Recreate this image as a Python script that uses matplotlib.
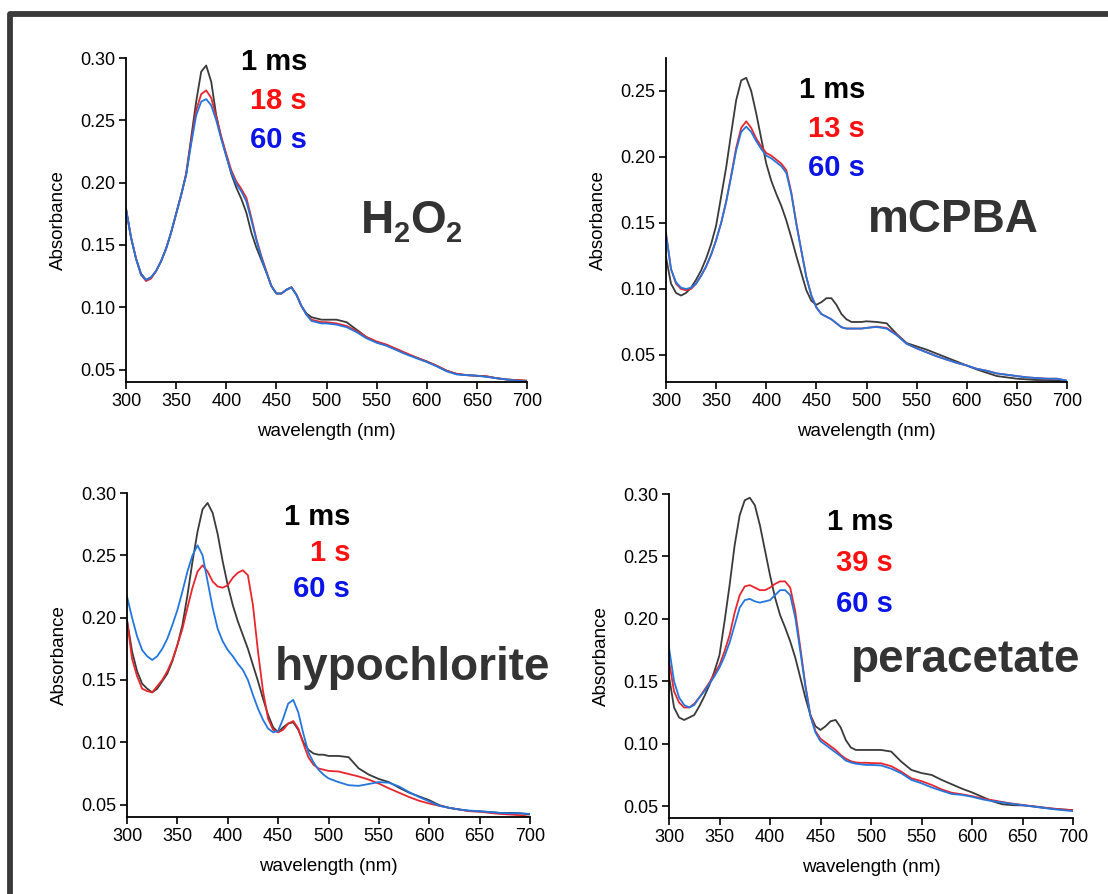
import numpy as np
import matplotlib
matplotlib.use("Agg")
import matplotlib.pyplot as plt
from matplotlib.patches import Rectangle

plt.rcParams["font.family"] = ["Liberation Sans", "DejaVu Sans"]

# wavelength grid (nm): 5 nm steps to 500, then 10 nm steps
wavelength = list(range(300, 501, 5)) + list(range(510, 701, 10))

h2o2_1ms = [.179, .156, .139, .127, .122, .124, .129, .137, .147, .160,
            .175, .190, .207, .236, .265, .289, .294, .281, .254, .236,
            .222, .207, .196, .187, .176, .160, .148, .138, .128, .117,
            .111, .111, .114, .116, .110, .101, .095, .092, .091, .090,
            .090,
            .090, .088, .082, .076, .072, .0695, .066, .0625, .0595, .0565,
            .053, .049, .0465, .0455, .045, .0445, .043, .042, .0415, .041]
h2o2_18s = [.179, .156, .139, .126, .121, .123, .129, .137, .147, .160,
            .175, .190, .207, .233, .258, .271, .274, .268, .253, .237,
            .223, .210, .201, .195, .188, .172, .155, .141, .129, .117,
            .111, .111, .114, .116, .110, .101, .094, .090, .089, .088,
            .088,
            .087, .085, .081, .076, .0725, .070, .0665, .063, .0595, .0565,
            .053, .049, .0465, .0455, .045, .0445, .043, .042, .0415, .041]
h2o2_60s = [.179, .156, .139, .126, .122, .124, .129, .137, .147, .160,
            .175, .190, .206, .231, .254, .265, .267, .262, .250, .235,
            .221, .208, .199, .193, .185, .170, .154, .140, .128, .117,
            .111, .111, .114, .116, .110, .101, .094, .089, .088, .087,
            .087,
            .086, .084, .080, .075, .0715, .069, .0655, .062, .059, .056,
            .0525, .0485, .046, .0455, .045, .044, .043, .042, .041, .0405]

mcpba_1ms = [.124, .104, .097, .095, .097, .101, .107, .114, .123, .134,
             .148, .170, .192, .218, .243, .258, .260, .250, .233, .214,
             .195, .182, .172, .163, .152, .139, .125, .112, .099, .091,
             .088, .090, .093, .093, .088, .081, .077, .075, .075, .075,
             .0755,
             .075, .074, .066, .059, .0565, .054, .051, .048, .045, .042,
             .039, .0365, .034, .033, .032, .0315, .031, .031, .0305, .0303]
mcpba_13s = [.142, .115, .104, .100, .099, .100, .104, .110, .117, .126,
             .137, .150, .166, .186, .207, .222, .227, .222, .214, .208,
             .203, .201, .198, .195, .190, .173, .150, .129, .109, .095,
             .086, .081, .079, .077, .074, .071, .070, .070, .070, .070,
             .0705,
             .0715, .0705, .0655, .0585, .055, .052, .049, .0465, .044, .042,
             .0395, .038, .036, .035, .034, .033, .0325, .032, .032, .0305]
mcpba_60s = [.142, .115, .105, .101, .100, .101, .104, .110, .117, .126,
             .137, .150, .166, .185, .205, .219, .223, .219, .212, .206,
             .201, .199, .196, .193, .188, .172, .149, .129, .109, .095,
             .086, .081, .079, .077, .074, .071, .070, .070, .070, .070,
             .0705,
             .0712, .070, .065, .0585, .055, .052, .049, .0465, .044, .042,
             .0395, .038, .036, .035, .034, .033, .0325, .032, .032, .0305]

hypo_1ms = [.198, .173, .157, .147, .143, .140, .143, .149, .155, .165,
            .178, .194, .218, .245, .269, .287, .292, .284, .267, .245,
            .226, .210, .197, .186, .175, .162, .149, .135, .122, .112,
            .108, .112, .115, .116, .110, .100, .094, .091, .090, .090,
            .089,
            .089, .088, .079, .074, .0705, .068, .0635, .0595, .0565, .0535,
            .0495, .0473, .046, .0447, .0445, .044, .0433, .0433, .043, .042]
hypo_1s = [.198, .167, .153, .143, .141, .140, .145, .150, .157, .166,
           .178, .191, .208, .224, .237, .242, .237, .229, .225, .224,
           .226, .232, .236, .238, .234, .210, .173, .141, .119, .110,
           .108, .110, .115, .117, .111, .099, .088, .082, .079, .078,
           .077,
           .0765, .0745, .0725, .070, .0668, .063, .0595, .056, .053, .0508,
           .049, .0473, .046, .0447, .0443, .0433, .0425, .042, .0415, .040]
hypo_60s = [.217, .200, .185, .174, .169, .166, .169, .175, .183, .194,
            .206, .221, .237, .250, .258, .250, .229, .208, .191, .181,
            .174, .169, .163, .158, .150, .138, .127, .118, .111, .108,
            .109, .119, .131, .134, .124, .107, .092, .084, .078, .074,
            .071,
            .068, .0655, .065, .0665, .068, .0675, .0645, .060, .056, .0525,
            .049, .0473, .046, .0452, .0446, .044, .0433, .043, .043, .0425]

perac_1ms = [.154, .129, .121, .119, .121, .123, .130, .138, .147, .158,
             .171, .198, .227, .259, .283, .295, .297, .291, .275, .255,
             .235, .217, .203, .193, .182, .169, .153, .137, .123, .114,
             .111, .114, .118, .119, .113, .103, .097, .095, .095, .095,
             .095,
             .095, .0937, .0856, .079, .0765, .075, .071, .0675, .064, .061,
             .0575, .054, .0515, .0508, .0506, .050, .049, .048, .0473, .0468]
perac_39s = [.166, .142, .133, .129, .129, .132, .137, .143, .149, .156,
             .163, .174, .187, .205, .219, .226, .227, .225, .223, .223,
             .225, .228, .230, .230, .225, .206, .177, .147, .123, .110,
             .104, .101, .098, .095, .091, .088, .086, .085, .0847, .0847,
             .0845,
             .0843, .082, .0776, .0722, .070, .067, .0634, .0607, .0595, .058,
             .0562, .0548, .0533, .052, .051, .0498, .0487, .048, .0473, .0468]
perac_60s = [.177, .150, .137, .131, .129, .131, .137, .142, .148, .154,
             .161, .170, .181, .195, .209, .215, .216, .214, .213, .214,
             .215, .219, .223, .223, .219, .201, .174, .146, .122, .109,
             .102, .099, .096, .093, .090, .0865, .085, .084, .0835, .083,
             .083,
             .0826, .080, .0763, .071, .0683, .065, .0623, .0597, .059, .0575,
             .0555, .054, .053, .0518, .0508, .0497, .0487, .0476, .0468, .046]

# panel texts; H2O2 is given as (text, is_subscript) pieces
panel_names = [[("H", False), ("2", True), ("O", False), ("2", True)],
               [("mCPBA", False)], [("hypochlorite", False)], [("peracetate", False)]]
time_labels = [["1 ms", "18 s", "60 s"], ["1 ms", "13 s", "60 s"],
               ["1 ms", "1 s", "60 s"], ["1 ms", "39 s", "60 s"]]
series = [[h2o2_1ms, h2o2_18s, h2o2_60s],
          [mcpba_1ms, mcpba_13s, mcpba_60s],
          [hypo_1ms, hypo_1s, hypo_60s],
          [perac_1ms, perac_39s, perac_60s]]
ylims = [(0.04, 0.30), (0.0295, 0.275), (0.04, 0.30), (0.0405, 0.30)]
yticks = [[0.05, 0.10, 0.15, 0.20, 0.25, 0.30],
          [0.05, 0.10, 0.15, 0.20, 0.25],
          [0.05, 0.10, 0.15, 0.20, 0.25, 0.30],
          [0.05, 0.10, 0.15, 0.20, 0.25, 0.30]]
xticks = [300, 350, 400, 450, 500, 550, 600, 650, 700]

line_colors = ["#3a3a3a", "#e8262c", "#2376e0"]
text_colors = ["#000000", "#ff1010", "#0a14e8"]

W, H = 1108, 894
# axes boxes in pixels: left, top, right, bottom
boxes = [(126, 58, 527, 382), (666, 58, 1067, 382),
         (127, 493, 530, 817), (669, 494, 1073, 818)]
# legend right edge x, first baseline y, line step (pixels)
legend_pos = [(307, 70, 39), (865, 98, 39), (350, 525, 36), (893, 530, 41)]
# panel name left x, baseline y (pixels)
name_pos = [(361, 233), (868, 232), (275, 680), (851, 672)]

fig = plt.figure(figsize=(W / 100, H / 100), dpi=100)
renderer = fig.canvas.get_renderer()

for i in range(4):
    l, t, r, b = boxes[i]
    ax = fig.add_axes([l / W, 1 - b / H, (r - l) / W, (b - t) / H])
    for vals, col in zip(series[i], line_colors):
        ax.plot(wavelength, vals, color=col, lw=1.3)
    ax.set_xlim(300, 700)
    ax.set_ylim(*ylims[i])
    ax.set_xticks(xticks)
    ax.set_yticks(yticks[i])
    ax.set_yticklabels([f"{v:.2f}" for v in yticks[i]])
    for side in ("top", "right"):
        ax.spines[side].set_visible(False)
    for side in ("left", "bottom"):
        ax.spines[side].set_linewidth(1.3)
    ax.tick_params(direction="out", length=5, width=1.2, labelsize=13, pad=3)
    ax.set_xlabel("wavelength (nm)", fontsize=13.5, labelpad=9)
    ax.set_ylabel("Absorbance", fontsize=13.5, labelpad=9)

    lx, ly, step = legend_pos[i]
    for k, (lab, col) in enumerate(zip(time_labels[i], text_colors)):
        fig.text(lx / W, 1 - (ly + k * step) / H, lab, color=col,
                 fontsize=21, fontweight="bold", ha="right", va="baseline")

    nx, ny = name_pos[i]
    for piece, is_sub in panel_names[i]:
        size = 21 if is_sub else 33
        y = ny + 9 if is_sub else ny
        txt = fig.text(nx / W, 1 - y / H, piece, color="#333333",
                       fontsize=size, fontweight="bold", ha="left", va="baseline")
        nx = txt.get_window_extent(renderer).x1

# dark frame around the figure (cut by right and bottom edges)
frame = Rectangle((10 / W, -0.2), 1.3, 1 - 14 / H + 0.2, transform=fig.transFigure,
                  fill=False, edgecolor="#3a3a3a", linewidth=4.2,
                  joinstyle="round")
fig.patches.append(frame)

fig.savefig("out.png", dpi=100)
